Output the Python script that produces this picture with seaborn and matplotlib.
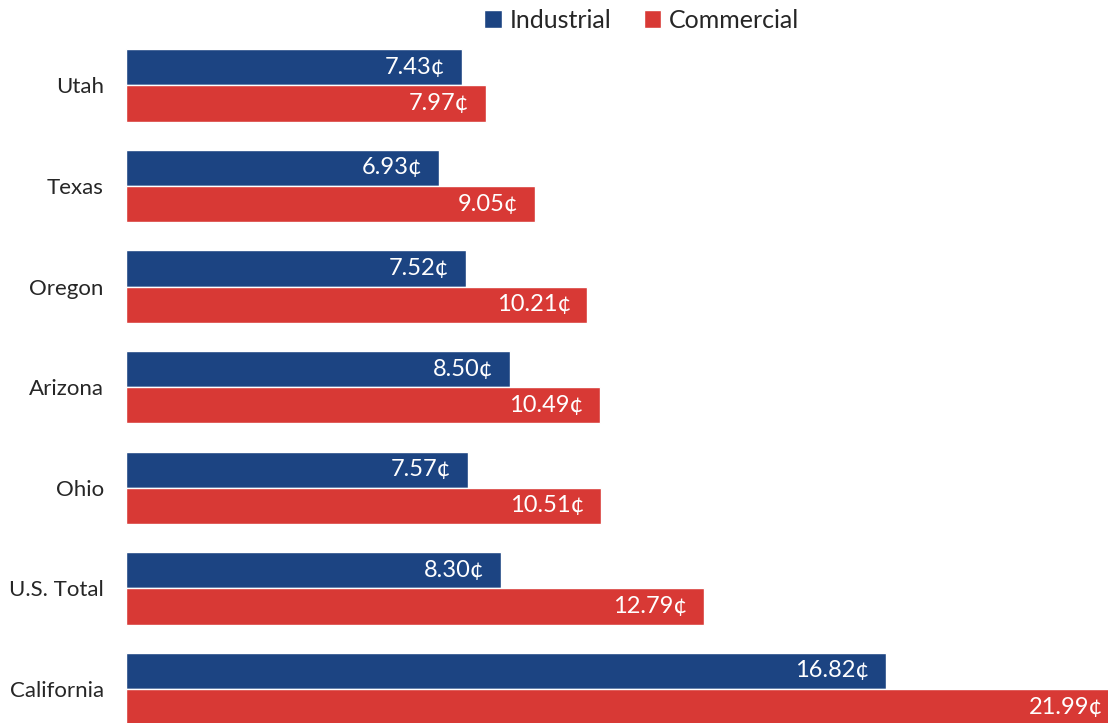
import numpy as np
import pandas as pd
import matplotlib
matplotlib.use("Agg")
import matplotlib.pyplot as plt
import seaborn as sns

# electricity prices, cents per kWh
states = ["Utah", "Texas", "Oregon", "Arizona", "Ohio", "U.S. Total", "California"]
industrial = [7.43, 6.93, 7.52, 8.50, 7.57, 8.30, 16.82]
commercial = [7.97, 9.05, 10.21, 10.49, 10.51, 12.79, 21.99]
sectors = ["Industrial", "Commercial"]
colors = ["#1C4482", "#D83935"]

df = pd.DataFrame({
    "state": states * 2,
    "sector": ["Industrial"] * len(states) + ["Commercial"] * len(states),
    "price": industrial + commercial,
})

sns.set_style("white")
plt.rcParams["font.family"] = ["Lato", "DejaVu Sans"]

fig = plt.figure(figsize=(11.08, 7.23), dpi=100)
ax = fig.add_axes([126 / 1108, 0, 1 - 126 / 1108, 688 / 723])

sns.barplot(data=df, y="state", x="price", hue="sector", order=states,
            hue_order=sectors, palette=colors, orient="h", width=0.72,
            saturation=1, ax=ax, legend=True)

for cont in ax.containers:
    ax.bar_label(cont, labels=["{:.2f}¢".format(v) for v in cont.datavalues],
                 padding=-12, color="white", fontsize=17)
# labels sit inside the bar end, California runs past the edge
for t in ax.texts:
    t.set_horizontalalignment("right")
    t.set_clip_on(False)
    t.set_annotation_clip(False)

ax.set_xlim(0, 982 / 45.19)
ax.set_ylim(6 + 34 / 100.67, -0.5)
ax.set_xlabel("")
ax.set_ylabel("")
ax.set_xticks([])
ax.tick_params(axis="y", length=0, labelsize=16, pad=16)
for s in ax.spines.values():
    s.set_visible(False)

leg = ax.legend(loc="upper center", bbox_to_anchor=(0.525, 1.071), ncol=2,
                frameon=False, fontsize=18, handlelength=0.7,
                handleheight=0.7, handletextpad=0.3, columnspacing=1.3)

fig.savefig("out.png", dpi=100)
